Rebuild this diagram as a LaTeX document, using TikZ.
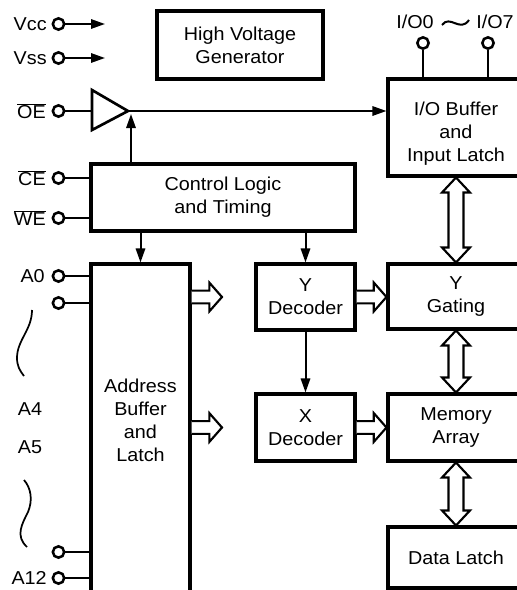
\documentclass[tikz,border=0pt]{standalone}
\usepackage{fontspec}
\setmainfont{Liberation Sans}[FakeStretch=1.06]
\usetikzlibrary{arrows.meta,calc}
\newcommand\lblfont{\fontsize{14}{17.25}\selectfont}
\newcommand\ovl[1]{$\overline{\mbox{#1}}$}
\tikzset{
  box/.style={draw, line width=2.3pt, rectangle, inner sep=0pt, align=center, font=\lblfont},
  txt/.style={inner sep=0pt, align=center, font=\lblfont},
  pinc/.style={circle, draw, line width=1.9pt, inner sep=0pt, minimum size=8.5pt, fill=white},
  wire/.style={line width=1.5pt},
  arr/.style={line width=1.5pt, -{Triangle[length=10.5pt,width=7pt]}},
  hollow/.style={line width=1.6pt, fill=white, line join=miter},
  wavy/.style={line width=1.3pt},
}
\newcommand\hollowR[2]{\draw[hollow] let \p1=(#1), \p2=(#2) in
  (\x1,\y1+4.8pt) -- (\x2-9.5pt,\y1+4.8pt) -- (\x2-9.5pt,\y1+10.8pt) -- (\x2,\y1)
  -- (\x2-9.5pt,\y1-10.8pt) -- (\x2-9.5pt,\y1-4.8pt) -- (\x1,\y1-4.8pt);}
\newcommand\hollowV[2]{\draw[hollow] let \p1=(#1), \p2=(#2) in
  (\x1,\y1) -- (\x1+10.5pt,\y1-11.25pt) -- (\x1+5.6pt,\y1-11.25pt) -- (\x1+5.6pt,\y2+11.25pt)
  -- (\x1+10.5pt,\y2+11.25pt) -- (\x1,\y2) -- (\x1-10.5pt,\y2+11.25pt) -- (\x1-5.6pt,\y2+11.25pt)
  -- (\x1-5.6pt,\y1-11.25pt) -- (\x1-10.5pt,\y1-11.25pt) -- cycle;}
\begin{document}
\begin{tikzpicture}[x=0.75pt,y=-0.75pt]
\useasboundingbox (0,0) rectangle (517,590);
\clip (0,0) rectangle (517,590);
% boxes
\node[box, minimum width=124.5pt, minimum height=51pt] (hv) at (240,45) {High Voltage\\Generator};
\node[box, minimum width=102pt, minimum height=72.75pt] (io) at (456,127.5) {};
\node[txt] (iot) at (456,134) {I/O Buffer\\and\\Input Latch};
\node[box, minimum width=198pt, minimum height=50.25pt] (ctl) at (223,197.5) {Control Logic\\and Timing};
\node[box, minimum width=74.25pt, minimum height=282pt] (addr) at (140.5,452) {};
\node[txt] (addrt) at (140.5,420) {Address\\Buffer\\and\\Latch};
\node[box, minimum width=74.25pt, minimum height=49.5pt] (yd) at (305.5,297) {Y\\Decoder};
\node[box, minimum width=102pt, minimum height=48.75pt] (yg) at (456,296.5) {Y\\Gating};
\node[box, minimum width=74.25pt, minimum height=50.25pt] (xd) at (305.5,427.5) {X\\Decoder};
\node[box, minimum width=102pt, minimum height=50.25pt] (mem) at (456,427.5) {Memory\\Array};
\node[box, minimum width=102pt, minimum height=45.75pt] (dl) at (456,557.5) {Data Latch};
% left pins
\node[pinc] (vcc) at (58.5,24) {};
\node[txt, anchor=east] (vccl) at (47,24) {Vcc};
\coordinate (vcca) at (105,24);
\draw[arr] (vcc) -- (vcca);
\node[pinc] (vss) at (58.5,58) {};
\node[txt, anchor=east] (vssl) at (47,58) {Vss};
\coordinate (vssa) at (105,58);
\draw[arr] (vss) -- (vssa);
\node[pinc] (oe) at (58.5,111) {};
\node[txt, anchor=east] (oel) at (46,111) {\ovl{OE}};
\coordinate (bufin) at (92,111);
\coordinate (bufout) at (128,111);
\draw[line width=2pt, line join=miter] (92,90) -- (bufout) -- (92,130) -- cycle;
\draw[wire] (oe) -- (bufin);
\draw[arr] (bufout) -- (bufout -| io.west);
\coordinate (ctlup) at (131,164);
\coordinate (bufup) at (131,114);
\draw[arr] (ctlup) -- (bufup);
\node[pinc] (ce) at (58.5,178) {};
\node[txt, anchor=east] (cel) at (46,178) {\ovl{CE}};
\draw[wire] (ce) -- (ce -| ctl.west);
\node[pinc] (we) at (58.5,218) {};
\node[txt, anchor=east] (wel) at (46,218) {\ovl{WE}};
\draw[wire] (we) -- (we -| ctl.west);
\node[pinc] (a0) at (58.5,276) {};
\node[txt, anchor=east] (a0l) at (45,276) {A0};
\draw[wire] (a0) -- (a0 -| addr.west);
\node[pinc] (a1) at (58.5,303) {};
\draw[wire] (a1) -- (a1 -| addr.west);
\node[pinc] (a11) at (58.5,552) {};
\draw[wire] (a11) -- (a11 -| addr.west);
\node[pinc] (a12) at (58.5,578) {};
\node[txt, anchor=east] (a12l) at (47,578) {A12};
\draw[wire] (a12) -- (a12 -| addr.west);
\node[txt] (a4l) at (30,409) {A4};
\node[txt] (a5l) at (30,447) {A5};
\draw[wavy] (32,310) .. controls (32,330) and (17,340) .. (17,358) .. controls (17,366) and (20,371) .. (24,376);
\draw[wavy] (24,480) .. controls (31,488) and (33,500) .. (28,512) .. controls (22,524) and (15,536) .. (27,547);
% control arrows
\draw[arr] (ctl.south -| addr.north) -- (addr.north);
\draw[arr] (ctl.south -| yd.north) -- (yd.north);
\draw[arr] (yd.south) -- (xd.north);
% I/O pins
\node[pinc] (io0) at (423,43) {};
\node[pinc] (io7) at (488,43) {};
\draw[wire] (io0) -- (io0 |- io.north);
\draw[wire] (io7) -- (io7 |- io.north);
\node[txt] (io0l) at (415,22) {I/O0};
\node[txt] (io7l) at (495,22) {I/O7};
\draw[line width=1.5pt] (442,25) .. controls (450,14) and (460,33) .. (469,20);
% hollow arrows
\coordinate (ha1) at (222,297);
\coordinate (ha2) at (222,427.5);
\hollowR{addr.east |- yd.center}{ha1}
\hollowR{addr.east |- xd.center}{ha2}
\hollowR{yd.east}{yg.west}
\hollowR{xd.east}{mem.west}
\hollowV{io.south}{yg.north}
\hollowV{yg.south}{mem.north}
\hollowV{mem.south}{dl.north}
\end{tikzpicture}
\end{document}
